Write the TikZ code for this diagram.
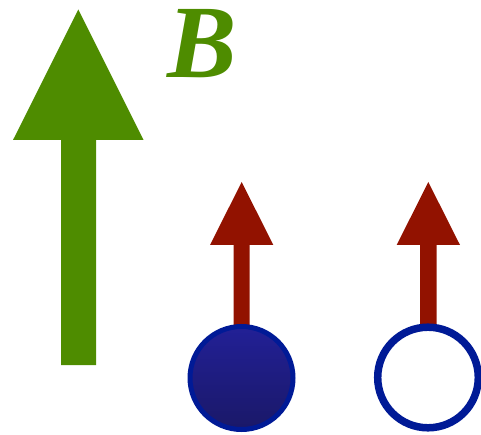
\documentclass[tikz,border=0pt]{standalone}
\usepackage{fontspec}
\setmainfont{Liberation Serif}
\definecolor{bgreen}{RGB}{78,140,0}
\definecolor{sred}{RGB}{146,18,0}
\definecolor{cblue}{RGB}{0,26,150}
\definecolor{ftop}{RGB}{34,32,150}
\definecolor{fbot}{RGB}{26,24,104}
\begin{document}
\begin{tikzpicture}[x=1pt,y=-1pt,
  bigarrow/.style={fill=bgreen,draw=none},
  spinarrow/.style={fill=sred,draw=none},
  particle/.style={draw=cblue}]
\useasboundingbox (0,0) rectangle (481,435);
% big green B arrow
\fill[bigarrow] (61,365) -- (61,140) -- (13,140) -- (78.3,9.5) -- (143.5,140) -- (96,140) -- (96,365) -- cycle;
\node[text=bgreen,font=\fontsize{104}{104}\selectfont\bfseries\itshape,anchor=base,inner sep=0pt] (B) at (202,78) {B};
% spin arrows
\fill[spinarrow] (233.5,335) -- (233.5,245) -- (210,245) -- (241.7,182) -- (273.3,245) -- (249.5,245) -- (249.5,335) -- cycle;
\fill[spinarrow] (420,335) -- (420,245) -- (396.7,245) -- (428.3,182) -- (460,245) -- (436.5,245) -- (436.5,335) -- cycle;
% particles
\shade[top color=ftop,bottom color=fbot] (241.5,378) circle (51.5);
\draw[particle,line width=5pt] (241.5,378) circle (51.5);
\draw[particle,line width=7.5pt,fill=white] (428,377.5) circle (50.3);
\end{tikzpicture}
\end{document}
